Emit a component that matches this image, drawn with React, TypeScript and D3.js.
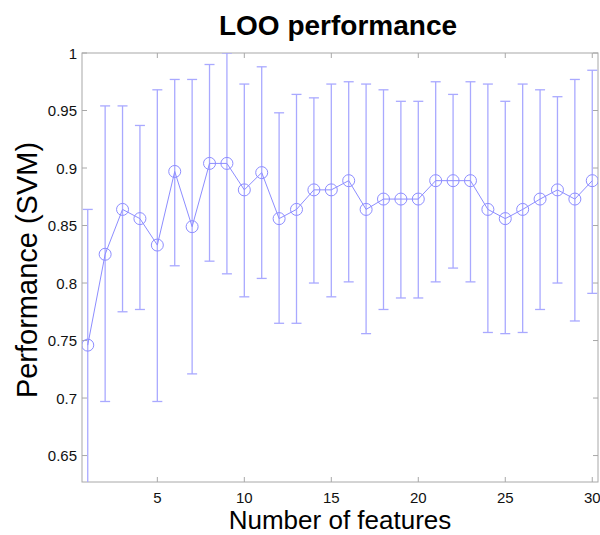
import React from "react";
import * as d3 from "d3";

// number of features 1..30
const features = d3.range(1, 31);

// mean LOO performance per feature count
const meanPerf = [
  0.746, 0.825, 0.864, 0.856, 0.833, 0.897, 0.849, 0.904, 0.904, 0.881,
  0.896, 0.856, 0.864, 0.881, 0.881, 0.889, 0.864, 0.873, 0.873, 0.873,
  0.889, 0.889, 0.889, 0.864, 0.856, 0.864, 0.873, 0.881, 0.873, 0.889,
];

// upper / lower ends of the error bars
const upperPerf = [
  0.864, 0.954, 0.954, 0.937, 0.968, 0.977, 0.977, 0.990, 1.000, 0.973,
  0.988, 0.948, 0.964, 0.961, 0.973, 0.975, 0.973, 0.968, 0.958, 0.958,
  0.975, 0.964, 0.975, 0.973, 0.958, 0.973, 0.968, 0.962, 0.977, 0.985,
];
const lowerPerf = [
  0.620, 0.697, 0.775, 0.777, 0.697, 0.815, 0.721, 0.819, 0.808, 0.788,
  0.804, 0.765, 0.765, 0.800, 0.788, 0.801, 0.756, 0.777, 0.787, 0.787,
  0.801, 0.813, 0.801, 0.757, 0.756, 0.757, 0.777, 0.800, 0.767, 0.791,
];

const xTicks = [5, 10, 15, 20, 25, 30];
const yTicks = [0.65, 0.7, 0.75, 0.8, 0.85, 0.9, 0.95, 1];

const W = 600;
const H = 535;
const left = 82;
const right = 598;
const top = 53;
const bottom = 482;

const App = () => {
  const x = d3.scaleLinear().domain([0.67, 30.33]).range([left, right]);
  const y = d3.scaleLinear().domain([0.627, 1]).range([bottom, top]);

  const line = d3
    .line<number>()
    .x((d, i) => x(features[i]))
    .y((d) => y(d));

  const tickLen = 5;
  const axisColor = "#a8a8a8";
  const barColor = "#a9a9ff";
  const lineColor = "#8d8dff";
  const capHalf = 5;

  return (
    <svg
      width={W}
      height={H}
      style={{ position: "absolute", left: 0, top: 0, background: "#fff" }}
      fontFamily="'Liberation Sans', Arial, sans-serif"
    >
      <defs>
        <clipPath id="plotClip">
          <rect x={left} y={top} width={right - left} height={bottom - top} />
        </clipPath>
      </defs>

      {/* title */}
      <text x={338} y={35} textAnchor="middle" fontSize={28} fontWeight="bold" fill="#000">
        LOO performance
      </text>

      {/* axis box */}
      <rect x={left} y={top} width={right - left} height={bottom - top} fill="none" stroke={axisColor} strokeWidth={1} />

      {/* x ticks (bottom and top) */}
      {xTicks.map((t) => (
        <g key={`xt-${t}`}>
          <line x1={x(t)} x2={x(t)} y1={bottom} y2={bottom - tickLen} stroke={axisColor} />
          <line x1={x(t)} x2={x(t)} y1={top} y2={top + tickLen} stroke={axisColor} />
          <text x={x(t)} y={503} textAnchor="middle" fontSize={15} fill="#111">
            {t}
          </text>
        </g>
      ))}

      {/* y ticks (left and right) */}
      {yTicks.map((t) => (
        <g key={`yt-${t}`}>
          <line x1={left} x2={left + tickLen} y1={y(t)} y2={y(t)} stroke={axisColor} />
          <line x1={right} x2={right - tickLen} y1={y(t)} y2={y(t)} stroke={axisColor} />
          <text x={77} y={y(t) + 5.5} textAnchor="end" fontSize={15} fill="#111">
            {d3.format("")(t)}
          </text>
        </g>
      ))}

      {/* error bars */}
      <g clipPath="url(#plotClip)">
        {features.map((f, i) => (
          <g key={`eb-${f}`} stroke={barColor} strokeWidth={1.3}>
            <line x1={x(f)} x2={x(f)} y1={y(lowerPerf[i])} y2={y(upperPerf[i])} />
            <line x1={x(f) - capHalf} x2={x(f) + capHalf} y1={y(upperPerf[i])} y2={y(upperPerf[i])} />
            <line x1={x(f) - capHalf} x2={x(f) + capHalf} y1={y(lowerPerf[i])} y2={y(lowerPerf[i])} />
          </g>
        ))}

        {/* mean line */}
        <path d={line(meanPerf) || ""} fill="none" stroke={lineColor} strokeWidth={1} />
        {features.map((f, i) => (
          <circle key={`pt-${f}`} cx={x(f)} cy={y(meanPerf[i])} r={6} fill="none" stroke={lineColor} strokeWidth={1} />
        ))}
      </g>

      {/* axis labels */}
      <text x={(left + right) / 2} y={529} textAnchor="middle" fontSize={26} fill="#000">
        Number of features
      </text>
      <text
        transform={`translate(37, 270) rotate(-90)`}
        textAnchor="middle"
        fontSize={29}
        fill="#000"
      >
        Performance (SVM)
      </text>
    </svg>
  );
};

export default App;
